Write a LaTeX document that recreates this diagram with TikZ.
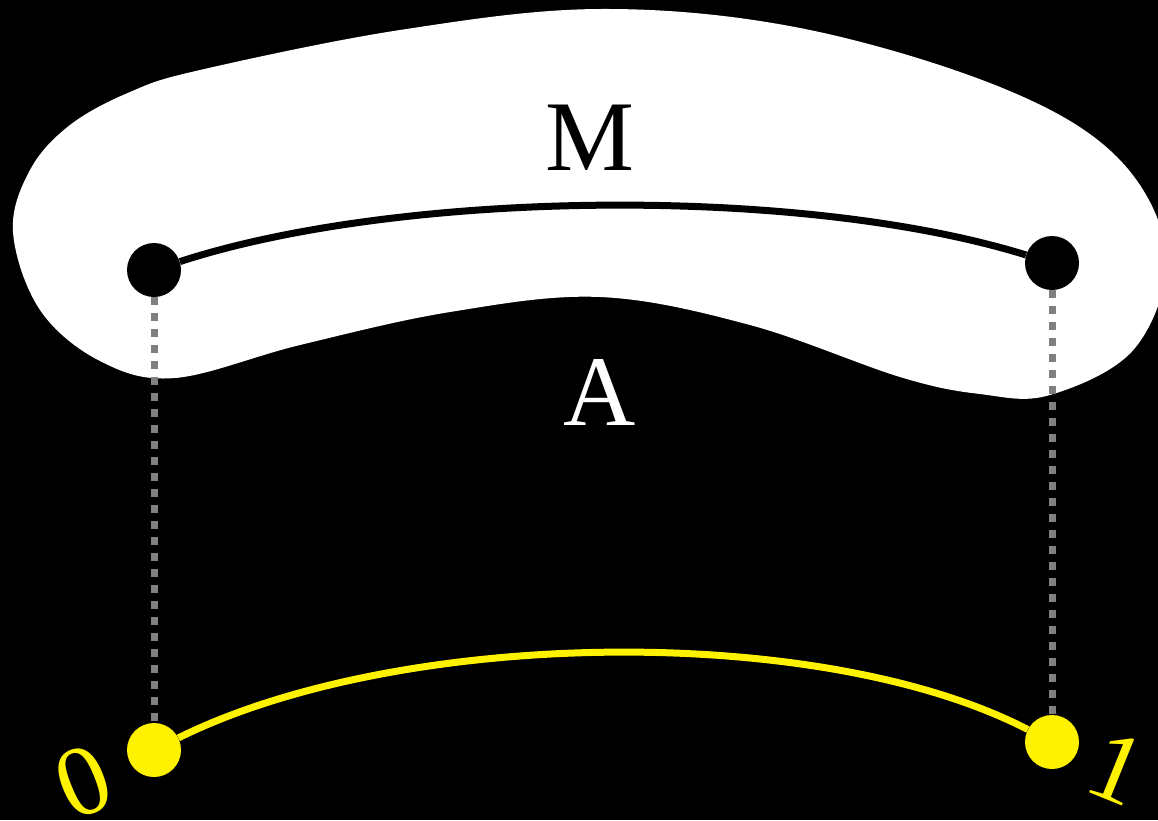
\documentclass[tikz,border=0pt]{standalone}
\usepackage{fontspec}
\setmainfont{Liberation Serif}
\begin{document}
\begin{tikzpicture}[x=1pt,y=-1pt,
  dot/.style={circle, inner sep=0pt, minimum size=54pt},
  bigtext/.style={font=\fontsize{100}{100}\selectfont, inner sep=0pt}]
\useasboundingbox (0,0) rectangle (1158,820);
\fill[black] (0,0) rectangle (1158,820);
\clip (0,0) rectangle (1158,820);
% the region M
\fill[white] plot[smooth cycle, tension=0.6] coordinates {
  (13,232) (30,170) (70,125) (130,92) (200,70) (400,30) (600,9) (800,28)
  (1000,87) (1117,157) (1166,253) (1135,348) (1050,395) (980,394)
  (900,377) (750,325) (600,297) (450,312) (300,345) (175,378)
  (100,361) (40,310)};
\node[dot, fill=black] (m0) at (154,270) {};
\node[dot, fill=black] (m1) at (1052,263) {};
\node[dot, fill=yellow] (y0) at (154,750) {};
\node[dot, fill=yellow] (y1) at (1052,742) {};
\draw[black, line width=7pt] (m0) .. controls (400,190) and (800,185) .. (m1);
\draw[yellow, line width=7pt] (y0) .. controls (400,628) and (820,622) .. (y1);
\draw[black!50, line width=7pt, dash pattern=on 8pt off 8pt] (m0) -- (y0);
\draw[black!50, line width=7pt, dash pattern=on 8pt off 8pt] (m1) -- (y1);
\node[bigtext, text=black, anchor=base] (lm) at (590,170) {M};
\node[bigtext, text=white, anchor=base] (la) at (600,425) {A};
\node[bigtext, text=yellow, rotate=22] (l0) at (83,782) {0};
\node[bigtext, text=yellow, rotate=-22] (l1) at (1117,768) {1};
\end{tikzpicture}
\end{document}
